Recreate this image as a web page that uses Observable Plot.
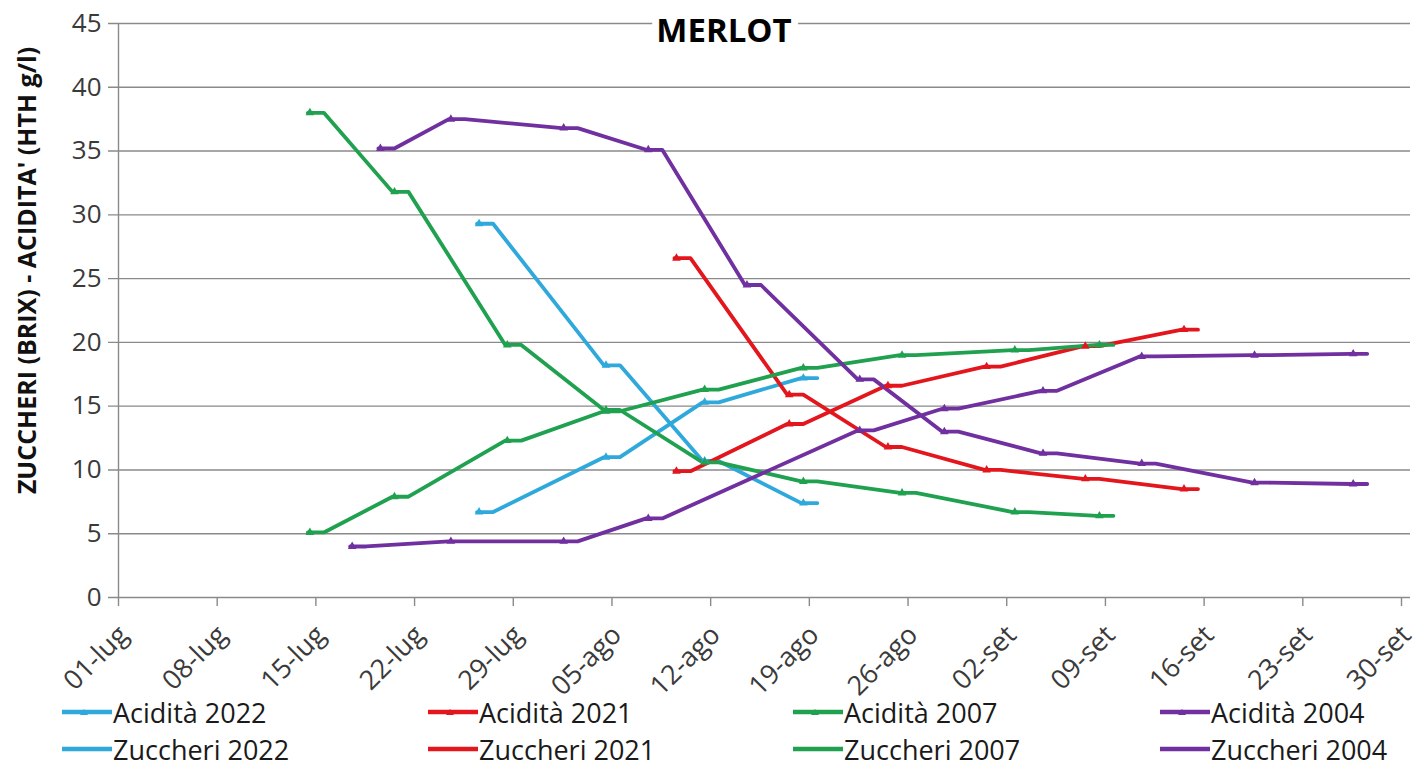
<!DOCTYPE html>
<html>
<head>
<meta charset="utf-8">
<script src="https://cdn.jsdelivr.net/npm/d3@7"></script>
<script src="https://cdn.jsdelivr.net/npm/@observablehq/plot@0.6"></script>
<style>
  body { margin: 0; background: #fff; font-family: "Open Sans", sans-serif; }
  #wrap { position: relative; width: 1418px; height: 765px; }
  #legend { position: relative; width: 1418px; height: 65px; }
  .item { position: absolute; display: flex; align-items: center; font-size: 27px; color: #1a1a1a; line-height: 1; white-space: nowrap; }
  .item svg { display: block; margin-right: 1px; }
</style>
</head>
<body>
<div id="wrap"><div id="chart"></div><div id="legend"></div></div>
<script>
// ---- data ----
const title = "MERLOT";
const yLabel = "ZUCCHERI (BRIX) - ACIDITA' (HTH g/l)";
const yTicks = [0, 5, 10, 15, 20, 25, 30, 35, 40, 45];
const xTickDates = ["07-01","07-08","07-15","07-22","07-29","08-05","08-12","08-19","08-26","09-02","09-09","09-16","09-23","09-30"];
const xTickLabels = ["01-lug","08-lug","15-lug","22-lug","29-lug","05-ago","12-ago","19-ago","26-ago","02-set","09-set","16-set","23-set","30-set"];
const years = ["2022", "2021", "2007", "2004"];
const yearColors = ["#2fa9dc", "#e3161d", "#20a150", "#7030a0"];

const acid2022Dates = ["07-27","08-05","08-12","08-19"];
const acid2022Values = [29.3, 18.2, 10.7, 7.4];
const sugar2022Dates = ["07-27","08-05","08-12","08-19"];
const sugar2022Values = [6.7, 11.0, 15.3, 17.2];

const acid2021Dates = ["08-10","08-18","08-25","09-01","09-08","09-15"];
const acid2021Values = [26.6, 15.9, 11.8, 10.0, 9.3, 8.5];
const sugar2021Dates = ["08-10","08-18","08-25","09-01","09-08","09-15"];
const sugar2021Values = [9.9, 13.6, 16.6, 18.1, 19.7, 21.0];

const acid2007Dates = ["07-15","07-21","07-29","08-05","08-12","08-19","08-26","09-03","09-09"];
const acid2007Values = [38.0, 31.8, 19.8, 14.7, 10.6, 9.1, 8.2, 6.7, 6.4];
const sugar2007Dates = ["07-15","07-21","07-29","08-05","08-12","08-19","08-26","09-03","09-09"];
const sugar2007Values = [5.1, 7.9, 12.3, 14.6, 16.3, 18.0, 19.0, 19.4, 19.8];

const acid2004Dates = ["07-20","07-25","08-02","08-08","08-15","08-23","08-29","09-05","09-12","09-20","09-27"];
const acid2004Values = [35.2, 37.5, 36.8, 35.1, 24.5, 17.1, 13.0, 11.3, 10.5, 9.0, 8.9];
const sugar2004Dates = ["07-18","07-25","08-02","08-08","08-23","08-29","09-05","09-12","09-20","09-27"];
const sugar2004Values = [4.0, 4.4, 4.4, 6.2, 13.1, 14.8, 16.2, 18.9, 19.0, 19.1];

// ---- build table ----
const parse = (s) => { const [m, d] = s.split("-").map(Number); return new Date(Date.UTC(2022, m - 1, d)); };
const seriesDefs = [
  {name: "Acidità 2022", kind: "acid", year: "2022", dates: acid2022Dates, values: acid2022Values},
  {name: "Zuccheri 2022", kind: "sugar", year: "2022", dates: sugar2022Dates, values: sugar2022Values},
  {name: "Acidità 2021", kind: "acid", year: "2021", dates: acid2021Dates, values: acid2021Values},
  {name: "Zuccheri 2021", kind: "sugar", year: "2021", dates: sugar2021Dates, values: sugar2021Values},
  {name: "Acidità 2007", kind: "acid", year: "2007", dates: acid2007Dates, values: acid2007Values},
  {name: "Zuccheri 2007", kind: "sugar", year: "2007", dates: sugar2007Dates, values: sugar2007Values},
  {name: "Acidità 2004", kind: "acid", year: "2004", dates: acid2004Dates, values: acid2004Values},
  {name: "Zuccheri 2004", kind: "sugar", year: "2004", dates: sugar2004Dates, values: sugar2004Values}
];
const rows = seriesDefs.flatMap(s => s.dates.map((d, i) => ({series: s.name, kind: s.kind, year: s.year, date: parse(d), value: s.values[i]})));
const tickDateObjs = xTickDates.map(parse);
const labelMap = new Map(tickDateObjs.map((d, i) => [+d, xTickLabels[i]]));

// Excel-style "dash" marker drawn into the line: short horizontal segment at each point
function dashCurve(context) {
  let first = true;
  const h = 8;
  return {
    areaStart() {}, areaEnd() {},
    lineStart() { first = true; },
    lineEnd() {},
    point(x, y) {
      x = +x; y = +y;
      if (first) { context.moveTo(x - h, y); first = false; }
      else context.lineTo(x - h, y);
      context.lineTo(x + h, y);
    }
  };
}

const chart = Plot.plot({
  width: 1418,
  height: 700,
  marginTop: 23,
  marginLeft: 118,
  marginRight: 17,
  marginBottom: 103,
  style: {fontFamily: "'Open Sans', sans-serif", background: "white", color: "#3a3a3a", overflow: "visible"},
  x: {type: "utc", domain: [tickDateObjs[0], tickDateObjs[tickDateObjs.length - 1]]},
  y: {domain: [0, 45]},
  color: {domain: years, range: yearColors},
  marks: [
    Plot.ruleY(yTicks, {stroke: "#8a8a8a", strokeWidth: 1.4, insetLeft: -10, insetRight: -9}),
    Plot.ruleX([tickDateObjs[0]], {y1: 0, y2: 45, stroke: "#8a8a8a", strokeWidth: 1.4}),
    Plot.axisY({ticks: yTicks, tickSize: 0, tickPadding: 17, fontSize: 26, label: null}),
    // tick marks only
    Plot.axisX({ticks: tickDateObjs, tickFormat: () => "", tickSize: 9, stroke: "#8a8a8a", strokeWidth: 1.4, label: null}),
    // rotated tick labels
    Plot.axisX({ticks: tickDateObjs, tickFormat: d => labelMap.get(+d), tickRotate: -45, tickSize: 0, tickPadding: 2, fontSize: 27, label: null, dx: 5, dy: 31}),
    Plot.text([yLabel], {frameAnchor: "left", textAnchor: "middle", rotate: -90, dx: -91, dy: -40, fontSize: 25, fontWeight: "bold", fill: "#111"}),
    Plot.line(rows, {x: "date", y: "value", z: "series", stroke: "year", strokeWidth: 3.8, curve: dashCurve, strokeLinejoin: "round"}),
    Plot.dot(rows, {x: "date", y: "value", fill: "year", symbol: "triangle", r: 3.2, dx: -6}),
    Plot.text([title], {frameAnchor: "top", lineAnchor: "middle", dx: -36, dy: 8, fontSize: 33, fontWeight: "bold", fill: "#000", stroke: "white", strokeWidth: 14, paintOrder: "stroke"})
  ]
});
document.getElementById("chart").appendChild(chart);

// ---- legend (below the SVG) ----
const legend = document.getElementById("legend");
const colLeft = [62, 428, 793, 1160];
seriesDefs.forEach((s, i) => {
  const col = Math.floor(i / 2), row = i % 2;
  const color = yearColors[years.indexOf(s.year)];
  const div = document.createElement("div");
  div.className = "item";
  div.style.left = colLeft[col] + "px";
  div.style.top = (row === 0 ? -2 : 35) + "px";
  div.style.height = "28px";
  const marker = s.kind === "acid" ? `<path d="M22,3 L26,9 L18,9 Z" fill="${color}"/>` : "";
  div.innerHTML = `<svg width="50" height="12" viewBox="0 0 50 12"><line x1="0" y1="6" x2="50" y2="6" stroke="${color}" stroke-width="4.5"/>${marker}</svg><span>${s.name}</span>`;
  legend.appendChild(div);
});
</script>
</body>
</html>
